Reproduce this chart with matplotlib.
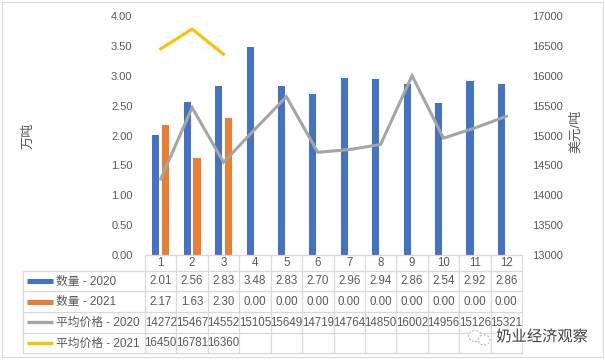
import matplotlib
matplotlib.use("Agg")
import matplotlib.pyplot as plt
import matplotlib.patheffects as pe
from matplotlib.patches import Rectangle, Ellipse
import numpy as np

plt.rcParams['font.family'] = ['Liberation Sans', 'Noto Sans CJK SC', 'DejaVu Sans']

months = ['1', '2', '3', '4', '5', '6', '7', '8', '9', '10', '11', '12']
qty_2020 = [2.01, 2.56, 2.83, 3.48, 2.83, 2.70, 2.96, 2.94, 2.86, 2.54, 2.92, 2.86]
qty_2021 = [2.17, 1.63, 2.30, 0.00, 0.00, 0.00, 0.00, 0.00, 0.00, 0.00, 0.00, 0.00]
price_2020 = [14272, 15467, 14552, 15105, 15649, 14719, 14764, 14850, 16002, 14956, 15126, 15321]
price_2021 = [16450, 16781, 16360]
series_names = ['数量 - 2020', '数量 - 2021', '平均价格 - 2020', '平均价格 - 2021']
left_label = '万吨'
right_label = '美元/吨'
left_ticks = [0.0, 0.5, 1.0, 1.5, 2.0, 2.5, 3.0, 3.5, 4.0]
right_ticks = [13000, 13500, 14000, 14500, 15000, 15500, 16000, 16500, 17000]
watermark = '奶业经济观察'

C_BLUE = '#4472C4'
C_ORANGE = '#ED7D31'
C_GRAY = '#A5A5A5'
C_YELLOW = '#FFC000'
TXT = '#595959'
GRID = '#D9D9D9'

W, H = 605, 362
fig = plt.figure(figsize=(W / 100, H / 100), dpi=100)

def fr(x0, y0, x1, y1):
    return [x0 / W, 1 - y1 / H, (x1 - x0) / W, (y1 - y0) / H]

fig.add_artist(Rectangle((2 / W, 1 - 357 / H), 601 / W, 355 / H, transform=fig.transFigure,
                         fill=False, edgecolor=GRID, linewidth=0.8))

PL, PR, PT, PB = 145, 522, 16, 255
ax = fig.add_axes(fr(PL, PT, PR, PB))
n = len(months)
x = np.arange(n) + 0.5
bw = 0.225
off = 0.155
ax.bar(x - off, qty_2020, width=bw, color=C_BLUE, zorder=2)
ax.bar(x + off, qty_2021, width=bw, color=C_ORANGE, zorder=2)
ax.set_xlim(0, n)
ax.set_ylim(0, 4)
ax.set_yticks(left_ticks)
ax.set_yticklabels([f'{v:.2f}' for v in left_ticks])
ax.tick_params(axis='y', length=0, pad=9, labelsize=8, labelcolor=TXT)
ax.set_xticks([])
for s in ax.spines.values():
    s.set_visible(False)

ax2 = ax.twinx()
ax2.plot(x, price_2020, color=C_GRAY, lw=2.2, solid_joinstyle='miter')
ax2.plot(x[:len(price_2021)], price_2021, color=C_YELLOW, lw=2.2, solid_joinstyle='miter')
ax2.set_ylim(13000, 17000)
ax2.set_yticks(right_ticks)
ax2.set_yticklabels([str(v) for v in right_ticks])
ax2.tick_params(axis='y', length=0, pad=7, labelsize=8, labelcolor=TXT)
for s in ax2.spines.values():
    s.set_visible(False)

fig.text(28 / W, 1 - 136 / H, left_label, rotation=90, ha='center', va='center',
         fontsize=9.5, color=TXT)
fig.text(576 / W, 1 - 131 / H, right_label, rotation=90, ha='center', va='center',
         fontsize=9.5, color=TXT)

# ---- data table ----
TL, TB = 23, 353.3
tax = fig.add_axes(fr(TL, PB, PR, TB))
colw = (PR - PL) / n
lab_units = (PL - TL) / colw
tax.set_xlim(-lab_units, n)
tax.set_ylim(TB - PB, 0)
tax.axis('off')

def px2x(p):
    return (p - TL) / colw - lab_units

rows = [0, 15.7, 36.3, 57.0, 77.6, 98.3]
lk = dict(color=GRID, lw=0.9, clip_on=False)
tax.plot([0, n], [rows[0], rows[0]], **lk)
for r in rows[1:]:
    tax.plot([-lab_units, n], [r, r], **lk)
tax.plot([-lab_units, -lab_units], [rows[1], rows[-1]], **lk)
for i in range(n + 1):
    tax.plot([i, i], [rows[0], rows[-1]], **lk)

fs = 8.3
for i, m in enumerate(months):
    tax.text(i + 0.5, (rows[0] + rows[1]) / 2 + 0.5, m, ha='center', va='center', fontsize=fs, color=TXT)

cells = [[f'{v:.2f}' for v in qty_2020],
         [f'{v:.2f}' for v in qty_2021],
         [str(v) for v in price_2020],
         [str(v) for v in price_2021]]
colors = [C_BLUE, C_ORANGE, C_GRAY, C_YELLOW]
key_lw = [3.6, 3.6, 2.4, 2.4]
for r in range(4):
    yc = (rows[r + 1] + rows[r + 2]) / 2 + 0.5
    tax.plot([px2x(27), px2x(53)], [yc - 0.5, yc - 0.5], color=colors[r], lw=key_lw[r],
             solid_capstyle='butt', clip_on=False)
    tax.text(px2x(56.5), yc, series_names[r], ha='left', va='center', fontsize=8.5, color=TXT)
    for i, s in enumerate(cells[r]):
        tax.text(i + 0.5, yc, s, ha='center', va='center', fontsize=fs, color=TXT)

# watermark with small icon outline
for (cx, cy, ew, eh) in [(475, 336, 13, 11), (484, 340, 12, 10)]:
    fig.add_artist(Ellipse((cx / W, 1 - cy / H), ew / W, eh / H, transform=fig.transFigure,
                           fill=True, facecolor='white', edgecolor='#BBBBBB', lw=0.8,
                           linestyle=(0, (2, 1.5))))
fig.text(542 / W, 1 - 337 / H, watermark, ha='center', va='center', fontsize=11,
         color='#3F3F3F', path_effects=[pe.withStroke(linewidth=2.5, foreground='white')])

fig.savefig('out.png', dpi=100)
